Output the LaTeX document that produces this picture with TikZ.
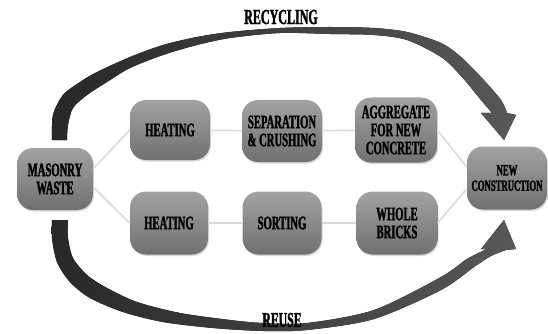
\documentclass[tikz,border=0pt]{standalone}
\usepackage{fontspec}
\newfontfamily\lab{Liberation Serif Bold}[FakeStretch=0.56, FakeBold=1.6]
\usetikzlibrary{shadows}
\definecolor{boxtop}{RGB}{162,162,162}
\definecolor{boxbot}{RGB}{112,112,112}
\definecolor{linkc}{RGB}{218,218,218}
\definecolor{arrdark}{RGB}{40,40,40}
\definecolor{arrlight}{RGB}{88,88,88}
\begin{document}
\begin{tikzpicture}[x=1pt,y=-1pt,
  box/.style={rectangle, rounded corners=16pt, draw=none, top color=boxtop, bottom color=boxbot,
    inner sep=0pt, align=center, text=black,
    font=\lab\fontsize{19}{18}\selectfont,
    drop shadow={shadow xshift=1pt, shadow yshift=-1.5pt, opacity=0.3}},
  link/.style={draw=linkc, line width=1.6pt},
  lbl/.style={font=\lab\fontsize{21.5}{20}\selectfont, text=black, inner sep=0pt},
  bigarrow/.style={left color=arrdark, right color=arrlight}]
\useasboundingbox (0,0) rectangle (548,334);

% big arrows
\fill[bigarrow] plot[smooth, tension=0.5] coordinates {(52,140) (53,115) (63,95) (80,82) (97,72) (130,57) (163,45) (197,37) (230,32) (280,28) (330,27) (374,28) (407,32) (441,43) (461,57) (481,77) (501,100) (507,113)}
  -- (516,115) -- (504,140) -- (481,113) --
  plot[smooth, tension=0.5] coordinates {(492,113) (481,100) (461,76) (441,57) (407,40) (374,35) (330,34) (280,33) (230,38) (197,45) (163,55) (130,68) (107,82) (87,95) (73,108) (68,125) (67,140)} -- cycle;
\fill[bigarrow] plot[smooth, tension=0.5] coordinates {(52,220) (52,238) (57,262) (70,282) (90,298) (123,312) (163,322) (213,328) (263,331) (307,330) (374,319) (441,290) (474,267) (491,256) (506,250)}
  -- (516,249) -- (504,220) -- (481,249) --
  plot[smooth, tension=0.5] coordinates {(487,249) (467,259) (441,277) (374,310) (307,323) (263,323) (230,320) (180,313) (137,302) (107,288) (87,275) (73,258) (68,238) (68,220)} -- cycle;

% boxes
\node[box, minimum width=76pt, minimum height=62pt] (mw) at (55,179) {MASONRY\\WASTE};
\node[box, minimum width=80pt, minimum height=60pt] (h1) at (170,130) {HEATING};
\node[box, minimum width=80pt, minimum height=62pt] (sc) at (282,131) {SEPARATION\\\& CRUSHING};
\node[box, minimum width=82pt, minimum height=65pt] (ag) at (396,130) {AGGREGATE\\FOR NEW\\CONCRETE};
\node[box, minimum width=78pt, minimum height=63pt] (h2) at (169,223) {HEATING};
\node[box, minimum width=79pt, minimum height=63pt] (so) at (282,223) {SORTING};
\node[box, minimum width=81pt, minimum height=63pt] (wb) at (397,223) {WHOLE\\BRICKS};
\node[box, minimum width=80pt, minimum height=63pt, font=\lab\fontsize{15.5}{15.5}\selectfont] (nc) at (507,178) {NEW\\CONSTRUCTION};

% connectors
\path[link] (mw.15) -- (h1.west);
\path[link] (mw.-12) -- (h2.west);
\path[link] (h1) -- (sc);
\path[link] (sc) -- (ag);
\path[link] (h2) -- (so);
\path[link] (so) -- (wb);
\path[link] (ag.east) -- (nc.165);
\path[link] (wb.east) -- (nc.195);

% labels
\node[lbl] (rec) at (281,17) {RECYCLING};
\node[lbl, font=\lab\fontsize{21}{19}\selectfont] (reu) at (282,320) {REUSE};
\end{tikzpicture}
\end{document}
